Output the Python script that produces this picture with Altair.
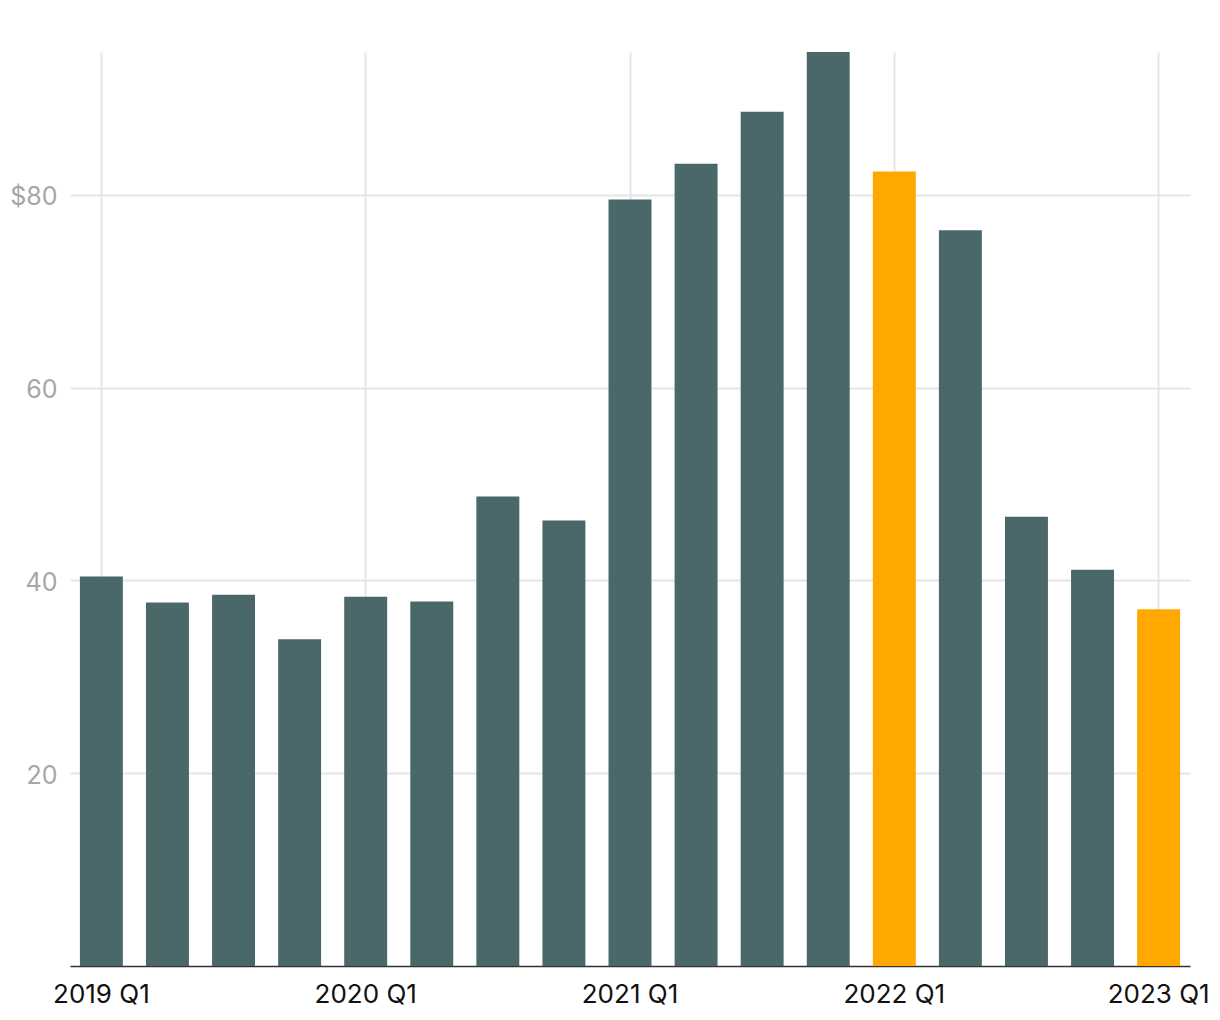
import altair as alt
import pandas as pd

quarters = [
    "2019 Q1", "2019 Q2", "2019 Q3", "2019 Q4",
    "2020 Q1", "2020 Q2", "2020 Q3", "2020 Q4",
    "2021 Q1", "2021 Q2", "2021 Q3", "2021 Q4",
    "2022 Q1", "2022 Q2", "2022 Q3", "2022 Q4",
    "2023 Q1",
]
values = [40.4, 37.7, 38.5, 33.9, 38.3, 37.8, 48.7, 46.2,
          79.5, 83.2, 88.6, 94.8, 82.4, 76.3, 46.6, 41.1, 37.0]
highlighted = ["2022 Q1", "2023 Q1"]
x_labels = ["2019 Q1", "2020 Q1", "2021 Q1", "2022 Q1", "2023 Q1"]
y_ticks = [20, 40, 60, 80]

df = pd.DataFrame({
    "quarter": quarters,
    "value": values,
    "group": ["highlight" if q in highlighted else "normal" for q in quarters],
})

FONT = "Inter"

chart = alt.Chart(df).mark_bar().encode(
    x=alt.X(
        "quarter:N",
        sort=quarters,
        title=None,
        scale=alt.Scale(paddingInner=0.35, paddingOuter=0.15),
        axis=alt.Axis(
            values=x_labels,
            bandPosition=0.5,
            grid=True,
            gridColor="#e5e5e5",
            gridWidth=2,
            ticks=False,
            domain=True,
            domainColor="#333333",
            domainWidth=1.5,
            labelAngle=0,
            labelFont=FONT,
            labelFontSize=26,
            labelColor="#111111",
            labelPadding=15,
        ),
    ),
    y=alt.Y(
        "value:Q",
        title=None,
        scale=alt.Scale(domain=[0, 94.8], nice=False, zero=True),
        axis=alt.Axis(
            values=y_ticks,
            grid=True,
            gridColor="#e5e5e5",
            gridWidth=2,
            ticks=False,
            domain=False,
            labelFont=FONT,
            labelFontSize=25,
            labelColor="#a6a6a6",
            labelPadding=13,
            labelOffset=2,
            labelExpr="datum.value == 80 ? '$' + datum.label : datum.label",
        ),
    ),
    color=alt.Color(
        "group:N",
        scale=alt.Scale(domain=["normal", "highlight"], range=["#4a6869", "#ffa800"]),
        legend=None,
    ),
).properties(
    width=1120,
    height=914,
    autosize=alt.AutoSizeParams(type="none"),
    padding={"left": 70, "top": 52, "right": 30, "bottom": 54},
).configure_view(stroke=None)

chart.save("out.html", embed_options={"renderer": "svg", "actions": False})
